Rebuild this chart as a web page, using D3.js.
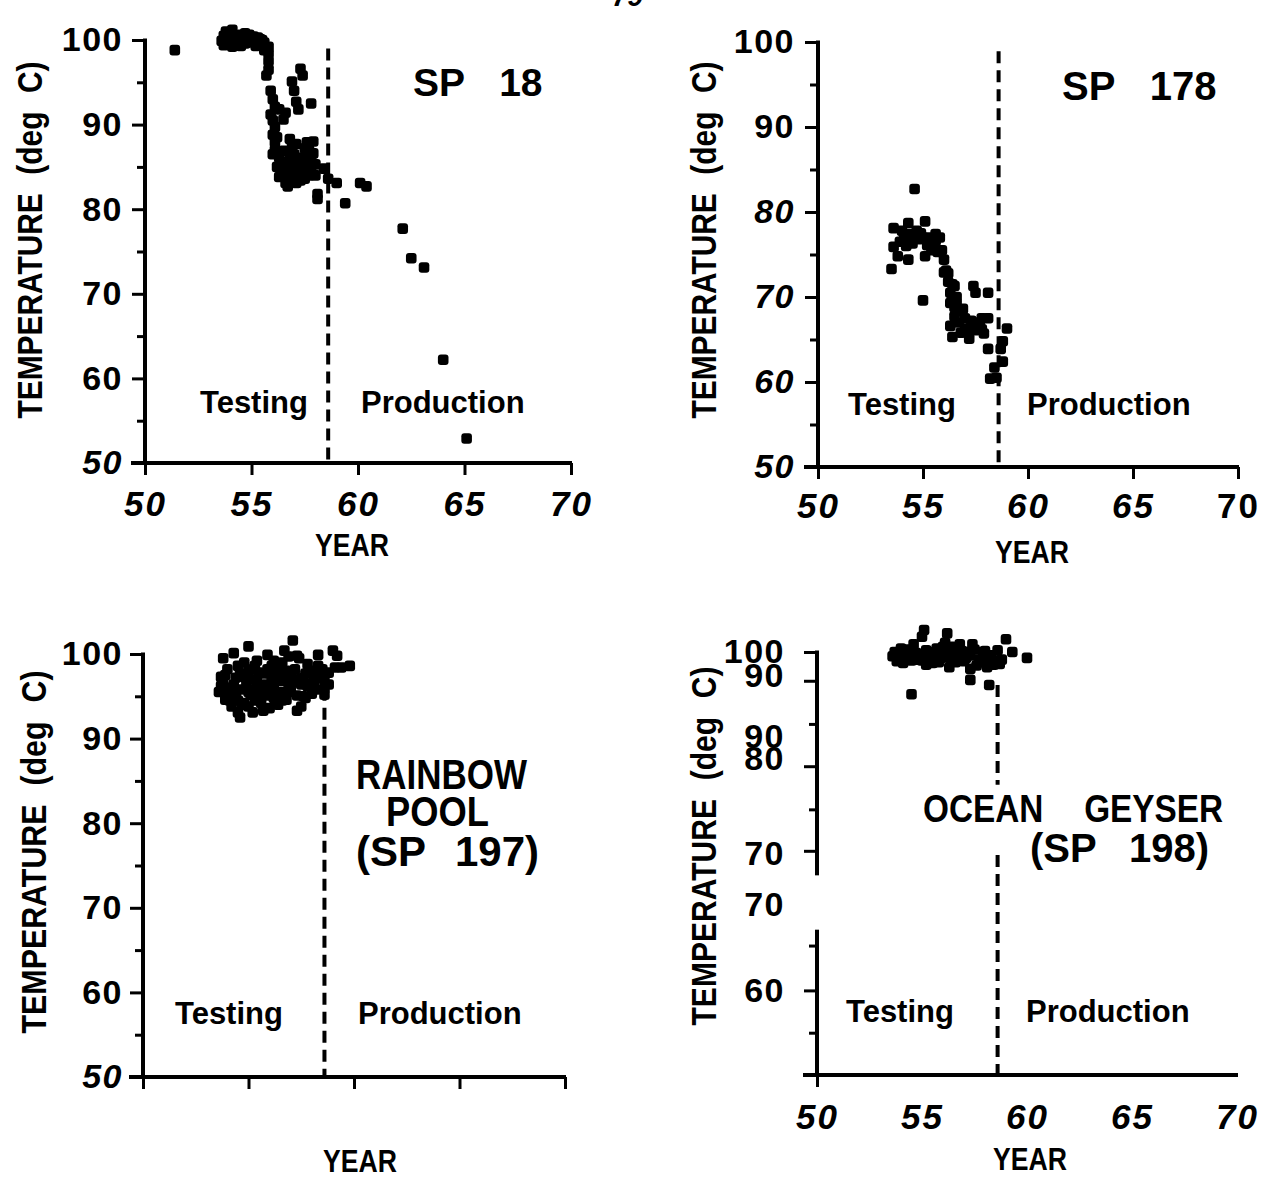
<!DOCTYPE html>
<html><head><meta charset="utf-8">
<script src="https://cdn.jsdelivr.net/npm/d3@7"></script>
<style>
body{margin:0;background:#fff}
svg{display:block}
text{font-family:"Liberation Sans",Arial,Helvetica,sans-serif;font-weight:bold;fill:#000}
</style></head><body>
<svg id="c" width="1271" height="1180"></svg>
<script>
// ---------------- data ----------------
const sp18 = [[51.4,98.8],
 [53.6,99.9],[53.8,101.0],[53.9,100.2],[54.0,99.5],[54.1,101.2],[54.2,100.5],[54.3,100.1],[54.4,100.4],[54.5,99.3],[54.6,99.8],[54.7,100.8],[54.8,100.0],[54.9,99.7],[55.0,100.3],[55.1,99.8],[55.2,99.3],[55.3,99.6],[55.4,100.1],[55.5,99.4],[55.6,98.8],[55.7,99.0],[55.8,98.4],[55.8,97.5],
 [53.7,100.5],[54.0,100.8],[54.2,99.8],[54.5,100.6],[54.7,99.6],[54.9,100.6],[55.1,100.4],[55.3,100.3],[55.5,100.0],[55.6,99.7],[55.8,99.2],[53.7,99.4],[54.1,99.2],
 [55.7,95.8],[55.9,94.0],[56.1,92.1],[56.0,90.5],[56.1,89.7],[56.0,88.8],[56.1,87.9],[56.1,87.0],[56.3,86.1],[56.4,85.3],[56.5,84.4],[56.4,84.0],[56.6,83.1],[56.7,82.7],
 [55.8,96.5],[56.0,93.0],[55.9,91.2],[56.2,88.5],[56.0,86.5],[56.2,85.0],[56.3,83.8],[56.5,86.9],[56.6,85.6],[56.7,84.5],[56.8,83.5],
 [56.6,91.4],[56.8,88.3],[56.8,86.6],[56.9,85.3],[57.0,84.0],[57.1,83.1],[56.5,90.6],[56.3,91.8],
 [56.9,95.1],[57.0,94.0],[57.1,92.7],[57.3,96.6],[57.4,95.8],[57.2,91.8],[57.8,92.5],
 [57.6,87.9],[57.4,86.1],[57.6,85.3],[57.7,87.0],[57.9,86.6],[58.0,85.3],[57.5,83.6],[57.2,84.4],[57.7,84.0],[57.3,85.5],[57.0,86.5],[56.9,87.5],[57.5,87.2],[57.8,85.8],
 [57.0,85.0],[57.2,86.0],[57.1,87.7],[57.4,84.6],[57.3,83.4],[57.6,86.4],[57.8,84.8],[58.0,84.0],[57.9,88.0],
 [58.4,84.8],[58.1,81.8],[58.1,81.2],[58.6,83.6],[59.0,83.1],[59.4,80.7],[60.1,83.1],[60.4,82.7],
 [62.1,77.7],[62.5,74.2],[63.1,73.1],[64.0,62.2],[65.1,52.9]];

const sp178 = [[54.6,82.7],
 [53.6,78.1],[53.6,75.9],[53.5,73.3],[53.8,74.8],[53.9,76.5],[54.1,77.0],[54.3,78.7],[54.4,77.4],[54.3,74.4],[54.7,77.8],[55.0,77.0],[55.1,78.9],[55.1,74.8],[55.2,76.1],[55.3,77.0],[55.5,76.1],[55.7,75.3],[55.8,77.0],[54.5,76.3],[54.8,76.8],[55.4,75.5],[55.6,76.6],
 [54.0,77.8],[54.2,76.0],[54.9,77.5],[55.6,77.4],
 [55.0,69.6],
 [56.0,74.4],[56.1,73.1],[56.2,71.8],[56.3,70.5],[56.4,69.6],[56.5,68.8],[56.5,71.3],[56.6,70.0],[56.7,68.3],[55.9,75.5],[56.2,72.8],[56.4,71.5],
 [56.0,72.9],[56.3,69.3],[56.6,69.2],[56.5,67.7],
 [56.3,66.6],[56.4,65.3],
 [57.0,67.5],[57.1,66.2],[57.2,65.1],[57.4,71.3],[57.5,70.5],[56.7,67.0],[56.8,65.8],[56.9,68.6],[57.0,66.3],
 [57.6,67.0],[57.7,66.6],[57.9,65.7],[57.8,67.5],[57.3,67.2],[57.5,66.1],[57.8,66.2],
 [58.1,70.5],[58.1,67.5],[58.1,63.9],
 [58.2,60.4],[58.4,61.7],[58.5,60.5],
 [58.7,63.9],[58.8,62.4],[58.8,64.8],[59.0,66.3]];

const sp197 = [[53.8,99.5],[54.3,100.1],[55.0,100.9],[54.1,96.0],[53.7,97.3],[53.6,95.5],[53.9,94.6],[54.2,93.8],[54.5,93.1],[54.6,92.5],[54.8,94.2],[55.0,95.5],[55.2,93.1],[55.3,98.6],[55.4,96.8],[55.5,95.1],[55.7,93.3],[55.9,99.9],[56.0,97.7],[56.2,96.0],[56.3,94.6],[56.4,94.0],[56.6,99.0],[56.7,100.4],[56.9,96.4],[57.1,101.6],[57.2,98.2],[57.3,95.1],[57.3,93.3],[57.5,96.4],[57.7,97.7],[57.8,98.8],[58.0,95.3],[58.1,97.3],[58.3,99.9],[58.4,97.1],[58.6,96.0],[58.8,96.4],[59.0,100.4],[59.1,98.4],[59.4,98.4],[59.8,98.6],
 [54.6,97.7],[54.8,99.0],[55.7,97.7],[56.3,97.7],[57.0,97.7],[55.9,95.1],[54.3,96.4],[56.8,94.6],[57.5,93.8],[54.0,95.2],[54.4,95.0],[55.1,97.0],[55.6,96.2],[56.1,98.6],[56.5,96.8],[57.4,97.0],[57.9,96.5],[58.2,95.8],[54.9,96.5],[55.3,94.5],[56.8,98.0],[58.6,95.2],
 [53.7,96.2],[53.9,97.5],[54.1,94.5],[54.4,97.2],[54.6,95.8],[54.7,94.0],[55.0,98.0],[55.2,95.8],[55.4,99.2],[55.6,94.2],[55.8,96.4],[56.0,95.3],[56.2,99.2],[56.4,97.2],[56.6,95.5],[56.7,97.4],[56.9,99.7],[57.0,95.8],[57.2,96.7],[57.4,99.5],[57.6,95.0],[57.8,96.2],[58.0,98.0],[58.3,97.5],[58.5,98.2],[58.8,97.8],[59.2,99.8],
 [53.8,96.8],[54.0,98.2],[54.2,95.5],[54.5,98.6],[54.5,94.5],[54.8,97.3],[55.1,95.2],[55.2,98.2],[55.5,97.8],[55.8,95.5],[55.9,98.2],[56.1,96.8],[56.2,94.8],[56.5,98.4],[56.6,94.5],[56.9,95.5],[57.1,97.0],[57.3,99.8],[57.6,97.2],[57.7,94.8],[58.1,96.3],[58.3,98.6],[58.6,97.0],[55.0,93.8],[56.0,93.6]];

const sp198 = [[53.7,100.0],[53.8,98.9],[54.0,100.4],[54.1,98.7],[54.4,99.6],[54.6,100.9],[54.8,99.1],[55.0,101.8],[55.1,102.6],[55.3,100.0],[55.5,98.7],[55.7,100.4],[55.9,99.3],[56.1,101.1],[56.2,102.2],[56.3,98.2],[56.5,100.0],[56.8,100.9],[57.0,98.9],[57.2,100.0],[57.3,98.0],[57.4,100.9],[57.7,99.1],[57.9,100.0],[58.1,98.2],[58.3,99.6],[58.4,98.5],[58.6,100.2],[58.8,99.1],[59.0,101.5],[59.3,100.0],[60.0,99.3],
 [54.5,95.0],[57.3,96.7],[58.2,96.1],
 [54.2,99.2],[54.9,99.8],[55.4,99.3],[56.0,99.8],[56.6,98.8],[57.6,98.4],[58.0,99.1],[55.2,98.5],[56.4,99.0],
 [53.6,99.5],[53.9,99.7],[54.3,100.3],[54.5,99.0],[54.7,99.9],[55.0,99.0],[55.2,100.2],[55.6,99.6],[55.8,98.8],[56.0,100.6],[56.2,99.4],[56.4,100.6],[56.7,99.6],[56.9,100.1],[57.1,99.3],[57.3,99.6],[57.5,100.3],[57.8,98.8],[58.0,100.1],[58.2,99.4],[58.5,99.0],[58.7,98.6]];

const xTickValues = [50,55,60,65,70];
const yMajorValues = [100,90,80,70,60,50];
const yMinorValues = [95,85,75,65,55];
const productionStart = 58.6;
// Ocean Geyser: the scanned axis shows displaced tick labels
const sp198MajorTicks = [100,96.6,86.5,76.5,60];
const sp198MinorTicks = [91.5,81.4,65.3,55];
const sp198LabelValues = [100,97.2,90,87.4,76.2,70.1,60];
const sp198LabelText = ["100","90","90","80","70","70","60"];

// ---------------- drawing ----------------
const svg = d3.select("#c");
svg.append("rect").attr("width",1271).attr("height",1180).attr("fill","#fff");

// page number fragment
svg.append("text").attr("x",612).attr("y",6).style("font-size","28px").style("font-style","italic").text("79");

function styleAxis(sel){
  sel.attr("font-family",null).attr("font-size",null);
  sel.selectAll(".domain").remove();
  sel.selectAll(".tick line").attr("stroke","#000").attr("stroke-width",3);
}

function drawPanel(c){
  const g = svg.append("g");
  const x = d3.scaleLinear().domain([50,70]).range(c.xRange);
  const y = d3.scaleLinear().domain([50,100]).range(c.yRange);
  const ax = x(50);

  g.append("g").attr("transform",`translate(${ax},0)`)
    .call(d3.axisLeft(y).tickValues(c.yMinor).tickSize(8).tickFormat(""))
    .call(styleAxis);
  g.append("g").attr("transform",`translate(${ax},0)`)
    .call(d3.axisLeft(y).tickValues(c.yMajor).tickSize(13).tickFormat(""))
    .call(styleAxis);
  const yl = g.append("g").attr("transform",`translate(${ax},0)`)
    .call(d3.axisLeft(y).tickValues(c.yLabelValues).tickSize(0).tickPadding(c.yPad)
      .tickFormat((d,i)=>c.yLabelText[i]))
    .call(styleAxis);
  yl.selectAll(".tick line").remove();
  yl.selectAll("text").style("font-size","34px").style("letter-spacing","1.5px")
    .style("font-style",d=>c.yItalic.includes(d)?"italic":"normal");

  c.ySegments.forEach(s=>{
    g.append("line").attr("x1",ax).attr("x2",ax).attr("y1",y(s[0])-1.5).attr("y2",y(s[1]))
      .attr("stroke","#000").attr("stroke-width",4);
  });

  g.append("g").attr("transform",`translate(0,${y(50)})`)
    .call(d3.axisBottom(x).tickValues(c.xTicks).tickSize(12).tickFormat(""))
    .call(styleAxis);
  g.append("line").attr("x1",ax-14).attr("x2",x(70)+1).attr("y1",y(50)).attr("y2",y(50))
    .attr("stroke","#000").attr("stroke-width",4);
  if(c.xLabels){
    const xl = g.append("g").attr("transform",`translate(0,${y(50)})`)
      .call(d3.axisBottom(x).tickValues(xTickValues).tickSize(0).tickPadding(c.xPad))
      .call(styleAxis);
    xl.selectAll(".tick line").remove();
    xl.selectAll("text").style("font-size","35px").style("letter-spacing","2px")
      .style("font-style",d=>c.xUpright.includes(d)?"normal":"italic");
  }

  c.dashSegments.forEach(s=>{
    g.append("line").attr("x1",x(productionStart)).attr("x2",x(productionStart))
      .attr("y1",y(s[0])).attr("y2",y(s[1]))
      .attr("stroke","#000").attr("stroke-width",4).attr("stroke-dasharray","12 7");
  });

  g.selectAll("rect.pt").data(c.data).join("rect").attr("class","pt")
    .attr("x",d=>x(d[0])-5.3).attr("y",d=>y(d[1])-5.3)
    .attr("width",10.6).attr("height",10.6).attr("rx",3).attr("fill","#000");

  g.append("text").attr("transform",`translate(${c.yTitle[0]},${c.yTitle[1]}) rotate(-90)`)
    .attr("text-anchor","middle").style("font-size","35px").style("word-spacing","12px")
    .attr("textLength",c.yTitle[2]).attr("lengthAdjust","spacingAndGlyphs")
    .text("TEMPERATURE (deg C)");
  g.append("text").attr("x",c.year[0]).attr("y",c.year[1]).attr("text-anchor","middle")
    .style("font-size","32px").attr("textLength",74).attr("lengthAdjust","spacingAndGlyphs")
    .text("YEAR");
  g.append("text").attr("x",c.testing[0]).attr("y",c.testing[1]).style("font-size","31px").text("Testing");
  g.append("text").attr("x",c.production[0]).attr("y",c.production[1]).style("font-size","31px").text("Production");
  c.titles.forEach(t=>{
    const el = g.append("text").attr("x",t.x).attr("y",t.y).style("font-size",t.size+"px")
      .style("word-spacing",(t.ws||0)+"px").text(t.text);
    if(t.len) el.attr("textLength",t.len).attr("lengthAdjust","spacingAndGlyphs");
  });
}

const std = {yMajor:yMajorValues, yMinor:yMinorValues, yLabelValues:yMajorValues, yLabelText:yMajorValues.map(String)};

drawPanel(Object.assign({}, std, {
  data:sp18, xRange:[145,571], yRange:[463,40], yPad:22, yItalic:[50],
  ySegments:[[100,50]], xTicks:xTickValues, xLabels:true, xPad:28, xUpright:[],
  dashSegments:[[99.0,50]], yTitle:[42,240,357], year:[352,556],
  testing:[200,413], production:[361,413],
  titles:[{text:"SP 18", x:413, y:96, size:39, ws:24}]
}));

drawPanel(Object.assign({}, std, {
  data:sp178, xRange:[818,1238], yRange:[467,42], yPad:23, yItalic:[80,70,60,50],
  ySegments:[[100,50]], xTicks:xTickValues, xLabels:true, xPad:26, xUpright:[70],
  dashSegments:[[98.9,50]], yTitle:[716,240,357], year:[1032,563],
  testing:[848,415], production:[1027,415],
  titles:[{text:"SP 178", x:1062, y:100, size:40, ws:24}]
}));

drawPanel(Object.assign({}, std, {
  data:sp197, xRange:[143,565], yRange:[1077,654], yPad:20, yItalic:[50],
  ySegments:[[100,50]], xTicks:xTickValues, xLabels:false, xPad:26, xUpright:[],
  dashSegments:[[95.9,50]], yTitle:[46,852,363], year:[360,1172],
  testing:[175,1024], production:[358,1024],
  titles:[{text:"RAINBOW", x:356, y:789, size:42, len:171},
          {text:"POOL", x:386, y:826, size:42, len:103},
          {text:"(SP 197)", x:356, y:866, size:42, ws:18}]
}));

drawPanel({
  data:sp198, xRange:[817,1237], yRange:[1075,652],
  yMajor:sp198MajorTicks, yMinor:sp198MinorTicks,
  yLabelValues:sp198LabelValues, yLabelText:sp198LabelText, yPad:32, yItalic:[],
  ySegments:[[100,73.6],[67.0,50]], xTicks:[50], xLabels:true, xPad:29, xUpright:[],
  dashSegments:[[96.1,84.3],[76.0,50]], yTitle:[716,846,359], year:[1030,1170],
  testing:[846,1022], production:[1026,1022],
  titles:[{text:"OCEAN GEYSER", x:923, y:822, size:38, ws:36, len:300},
          {text:"(SP 198)", x:1030, y:862, size:40, ws:22}]
});
</script>
</body></html>
